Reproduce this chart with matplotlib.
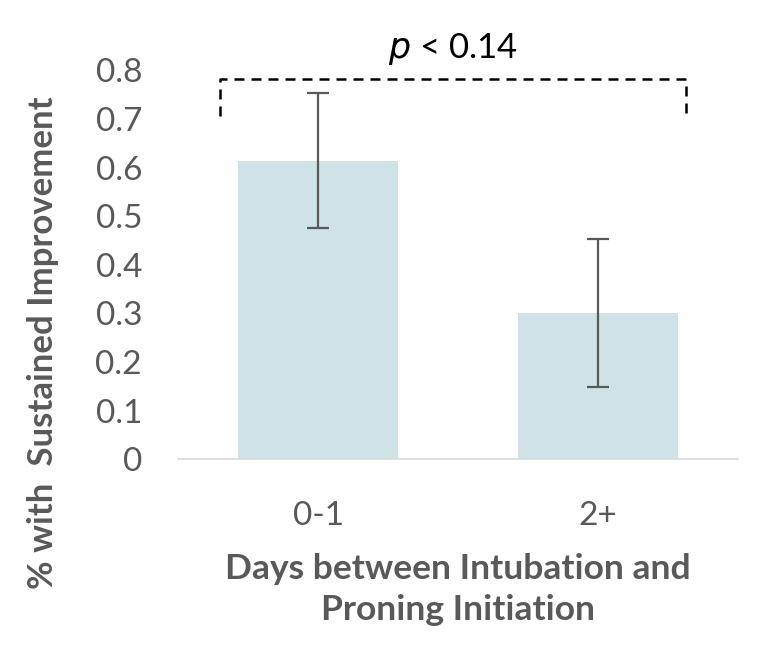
import matplotlib.pyplot as plt

categories = ['0-1', '2+']
values = [0.613, 0.301]
err_low = [0.475, 0.148]
err_high = [0.753, 0.452]
yticks = [0, 0.1, 0.2, 0.3, 0.4, 0.5, 0.6, 0.7, 0.8]
ytick_labels = ['0', '0.1', '0.2', '0.3', '0.4', '0.5', '0.6', '0.7', '0.8']

plt.rcParams['font.family'] = ['Lato', 'DejaVu Sans']
gray = '#595959'

fig = plt.figure(figsize=(7.68, 6.57), dpi=100)
ax = fig.add_axes([0.232, 0.301, 0.729, 0.592])

x = list(range(len(categories)))
yerr = [[v - lo for v, lo in zip(values, err_low)],
        [hi - v for v, hi in zip(values, err_high)]]
ax.bar(x, values, width=0.571, color='#CFE3E7', zorder=2)
ax.errorbar(x, values, yerr=yerr, fmt='none', ecolor='#595959',
            elinewidth=1.6, capsize=8, capthick=1.6, zorder=3)

ax.set_xlim(-0.5, 1.5)
ax.set_ylim(0, 0.8)
ax.set_yticks(yticks)
ax.set_yticklabels(ytick_labels)
ax.set_xticks(x)
ax.set_xticklabels(categories)
ax.tick_params(axis='both', length=0, labelsize=24, colors=gray)
ax.tick_params(axis='y', pad=26)
ax.tick_params(axis='x', pad=30)
for s in ['top', 'right', 'left']:
    ax.spines[s].set_visible(False)
ax.spines['bottom'].set_color('#D9D9D9')
ax.spines['bottom'].set_linewidth(1.2)

ax.set_ylabel('% with  Sustained Improvement', fontsize=25, fontweight='bold',
              color=gray)
ax.yaxis.set_label_coords(-0.213, 0.30)
ax.set_xlabel('Days between Intubation and\nProning Initiation', fontsize=25.5,
              fontweight='bold', color=gray, labelpad=16, linespacing=1.35)

# significance bracket
bx0, bx1 = -0.35, 1.315
by, bdrop = 0.783, 0.705
ax.plot([bx0, bx0, bx1, bx1], [bdrop, by, by, bdrop], ls=(0, (4, 2.8)),
        color='black', lw=1.8, clip_on=False)
ax.text((bx0 + bx1) / 2, 0.825, r'$p$ < 0.14', ha='center', va='baseline',
        fontsize=25, color='black')

fig.savefig('out.png', dpi=100)
